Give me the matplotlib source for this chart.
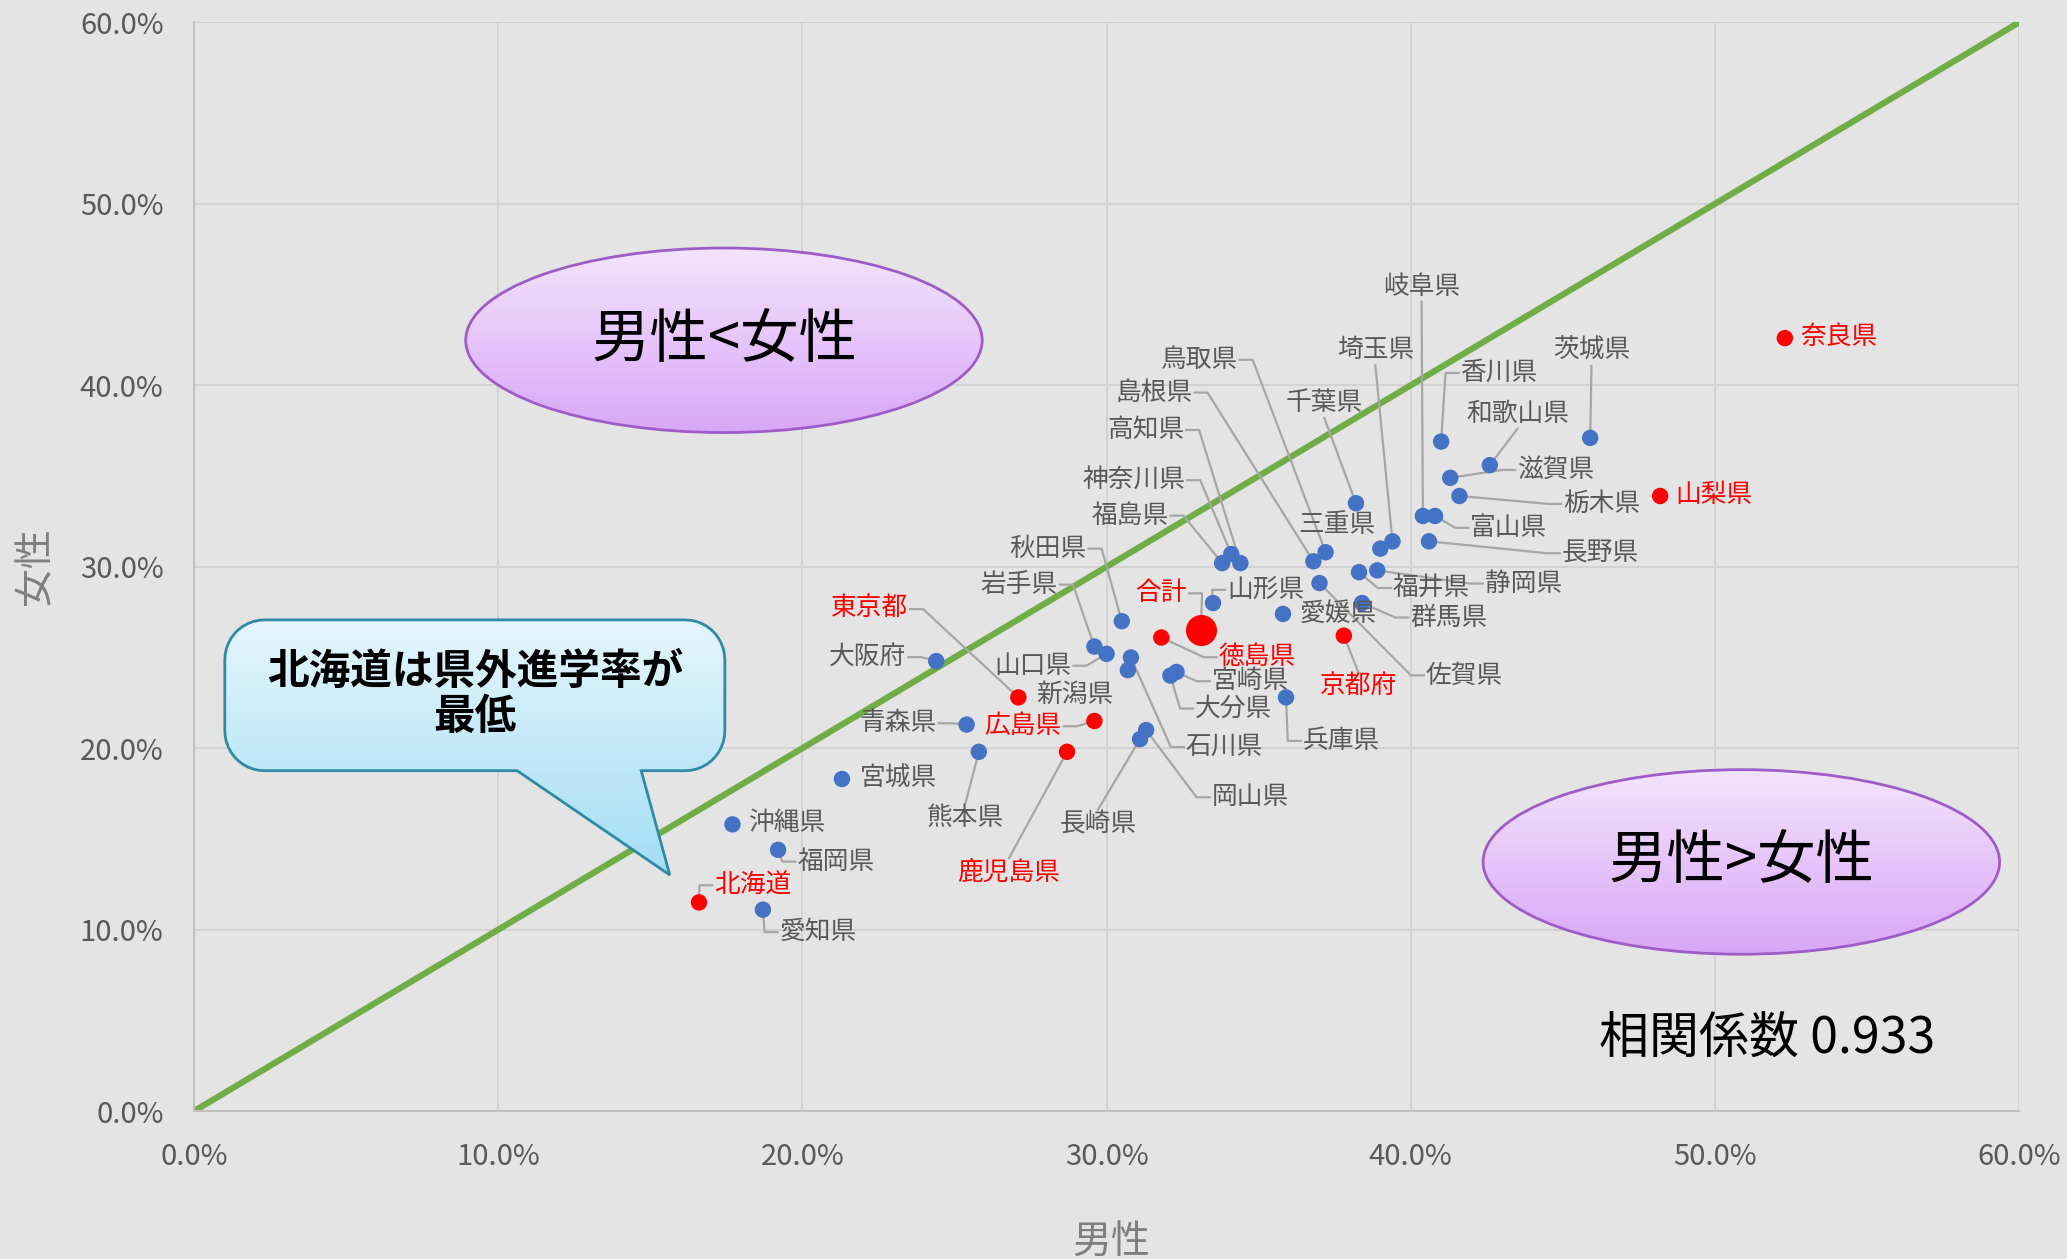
import numpy as np
import matplotlib
matplotlib.use("Agg")
import matplotlib.pyplot as plt
from matplotlib.patches import Ellipse, PathPatch
from matplotlib.path import Path

plt.rcParams['font.family'] = ['Noto Sans CJK JP', 'DejaVu Sans']

# 県外進学率 (%), 男性 / 女性
prefectures = ["北海道", "青森県", "岩手県", "宮城県", "秋田県", "山形県", "福島県",
               "茨城県", "栃木県", "群馬県", "埼玉県", "千葉県", "東京都", "神奈川県",
               "新潟県", "富山県", "石川県", "福井県", "山梨県", "長野県", "岐阜県",
               "静岡県", "愛知県", "三重県", "滋賀県", "京都府", "大阪府", "兵庫県",
               "奈良県", "和歌山県", "鳥取県", "島根県", "岡山県", "広島県", "山口県",
               "徳島県", "香川県", "愛媛県", "高知県", "福岡県", "佐賀県", "長崎県",
               "熊本県", "大分県", "宮崎県", "鹿児島県", "沖縄県"]
male = [16.6, 25.4, 29.6, 21.3, 30.5, 33.5, 33.8,
        45.9, 41.6, 38.4, 39.4, 38.2, 27.1, 34.1,
        30.7, 40.8, 30.8, 38.3, 48.2, 40.6, 40.4,
        38.9, 18.7, 39.0, 41.3, 37.8, 24.4, 35.9,
        52.3, 42.6, 37.2, 36.8, 31.3, 29.6, 30.0,
        31.8, 41.0, 35.8, 34.4, 19.2, 37.0, 31.1,
        25.8, 32.1, 32.3, 28.7, 17.7]
female = [11.5, 21.3, 25.6, 18.3, 27.0, 28.0, 30.2,
          37.1, 33.9, 28.0, 31.4, 33.5, 22.8, 30.7,
          24.3, 32.8, 25.0, 29.7, 33.9, 31.4, 32.8,
          29.8, 11.1, 31.0, 34.9, 26.2, 24.8, 22.8,
          42.6, 35.6, 30.8, 30.3, 21.0, 21.5, 25.2,
          26.1, 36.9, 27.4, 30.2, 14.4, 29.1, 20.5,
          19.8, 24.0, 24.2, 19.8, 15.8]
red_names = ["北海道", "東京都", "山梨県", "京都府", "奈良県", "広島県", "徳島県", "鹿児島県"]
total_name = "合計"
total_male = 33.1
total_female = 26.5
corr_text = "相関係数 0.933"

# label offset from the dot (px, y down) and where the leader leaves the label
label_layout = {
    "北海道": (41, -13, "L"), "青森県": (-52, -1, "R"), "岩手県": (-57, -47, "R"),
    "宮城県": (43, 0, None), "秋田県": (-56, -55, "R"), "山形県": (40, -10, "L"),
    "福島県": (-70, -36, "R"), "茨城県": (1, -66, "B"), "栃木県": (108, 6, "L"),
    "群馬県": (66, 11, "L"), "埼玉県": (-13, -145, "B"), "千葉県": (-24, -76, "B"),
    "東京都": (-113, -67, "R"), "神奈川県": (-74, -56, "R"), "新潟県": (-40, 19, None),
    "富山県": (56, 9, "L"), "石川県": (71, 68, "L"), "福井県": (55, 12, "L"),
    "山梨県": (41, -1, None), "長野県": (130, 9, "L"), "岐阜県": (-1, -174, "B"),
    "静岡県": (111, 10, "L"), "愛知県": (42, 17, "L"), "三重県": (-33, -18, None),
    "滋賀県": (80, -6, "L"), "京都府": (11, 39, "T"), "大阪府": (-52, -3, "R"),
    "兵庫県": (42, 33, "L"), "奈良県": (41, -1, None), "和歌山県": (21, -39, "B"),
    "鳥取県": (-96, -146, "R"), "島根県": (-121, -128, "R"), "岡山県": (79, 51, "L"),
    "広島県": (-54, 4, "R"), "山口県": (-56, 9, "R"), "徳島県": (73, 15, "L"),
    "香川県": (44, -52, "L"), "愛媛県": (42, 0, None), "高知県": (-72, -101, "R"),
    "福岡県": (44, 9, "L"), "佐賀県": (110, 70, "L"), "長崎県": (-32, 65, "T"),
    "熊本県": (-10, 50, "T"), "大分県": (48, 25, "L"), "宮崎県": (56, 7, "L"),
    "鹿児島県": (-44, 92, "T"), "沖縄県": (41, -1, None), "合計": (-30, -28, "R"),
}
PX = 1.318  # offsets above were measured on the reduced copy

BLUE = "#4472c4"
RED = "#ff0000"
BG = "#e4e4e4"

fig = plt.figure(figsize=(20.67, 12.59), dpi=100, facecolor=BG)
ax = fig.add_axes([0.0939, 0.1175, 0.8829, 0.8647], facecolor=BG)

ax.set_xlim(0, 60)
ax.set_ylim(0, 60)
ticks = np.arange(0, 61, 10)
ax.set_xticks(ticks)
ax.set_yticks(ticks)
ax.set_xticklabels([f"{t:.1f}%" for t in ticks])
ax.set_yticklabels([f"{t:.1f}%" for t in ticks])
ax.tick_params(length=0, labelsize=21, labelcolor="#595959")
ax.tick_params(axis="x", pad=22)
ax.tick_params(axis="y", pad=22)
ax.grid(True, color="#d2d2d2", lw=1.4)
ax.set_axisbelow(True)
for s in ["top", "right"]:
    ax.spines[s].set_visible(False)
for s in ["left", "bottom"]:
    ax.spines[s].set_color("#bfbfbf")
    ax.spines[s].set_linewidth(1.5)

# y = x reference line
ax.plot([0, 60], [0, 60], color="#70ad47", lw=4.5, zorder=2, solid_capstyle="butt")


def gradient_fill(patch, top_color, bottom_color, extent, z):
    ax.add_patch(patch)
    c1 = np.array(matplotlib.colors.to_rgb(top_color))
    c2 = np.array(matplotlib.colors.to_rgb(bottom_color))
    t = np.linspace(0, 1, 256)[:, None, None]
    img = c1 * (1 - t) + c2 * t
    img = np.repeat(img, 2, axis=1)
    im = ax.imshow(img, extent=extent, aspect="auto", origin="upper", zorder=z,
                   interpolation="bilinear")
    im.set_clip_path(patch)


# ellipses
for (cx, cy), txt in [((17.42, 42.48), "男性<女性"), ((50.87, 13.73), "男性>女性")]:
    w, h = 16.98, 10.17
    fill = Ellipse((cx, cy), w, h, facecolor="none", edgecolor="none", zorder=3)
    gradient_fill(fill, "#f4e4fc", "#d9a6f7", (cx - w / 2, cx + w / 2, cy - h / 2, cy + h / 2), 3)
    ax.add_patch(Ellipse((cx, cy), w, h, facecolor="none", edgecolor="#9d5cc6",
                         lw=2, zorder=3.5))
    ax.text(cx, cy, txt, ha="center", va="center", fontsize=42, color="black", zorder=4)

# callout
left, right, top, bottom = 1.01, 17.45, 27.07, 18.76
rx, ry = 1.3, 2.2
tail = [(14.70, bottom), (15.64, 13.01), (10.62, bottom)]


def arc(cx, cy, a0, a1):
    a = np.radians(np.linspace(a0, a1, 12))
    return list(zip(cx + rx * np.cos(a), cy + ry * np.sin(a)))


verts = [(left + rx, top), (right - rx, top)]
verts += arc(right - rx, top - ry, 90, 0)
verts += [(right, bottom + ry)]
verts += arc(right - rx, bottom + ry, 0, -90)
verts += tail
verts += [(left + rx, bottom)]
verts += arc(left + rx, bottom + ry, -90, -180)
verts += [(left, top - ry)]
verts += arc(left + rx, top - ry, 180, 90)
verts.append(verts[0])
codes = [Path.MOVETO] + [Path.LINETO] * (len(verts) - 2) + [Path.CLOSEPOLY]
callout_path = Path(verts, codes)
gradient_fill(PathPatch(callout_path, facecolor="none", edgecolor="none", zorder=3),
              "#e5f6fd", "#a3ddf5", (left, right, 13.01, top), 3)
ax.add_patch(PathPatch(callout_path, facecolor="none", edgecolor="#2f8aa5", lw=2, zorder=3.5))
ax.text((left + right) / 2, 22.95, "北海道は県外進学率が\n最低", ha="center", va="center",
        fontsize=30, fontweight="bold", linespacing=1.1, color="black", zorder=4)

ax.text(46.2, 4.0, corr_text, ha="left", va="center", fontsize=36, color="black", zorder=4)

# points
colors = [RED if p in red_names else BLUE for p in prefectures]
ax.scatter(male, female, s=140, c=colors, zorder=5, linewidths=0)
ax.scatter([total_male], [total_female], s=500, c=RED, zorder=5, linewidths=0)

# labels
labels = []
for name, x, y in list(zip(prefectures, male, female)) + [(total_name, total_male, total_female)]:
    dx, dy, side = label_layout[name]
    col = RED if (name in red_names or name == total_name) else "#595959"
    t = ax.annotate(name, (x, y), xytext=(dx * PX, -dy * PX), textcoords="offset pixels",
                    ha="center", va="center", fontsize=18.5, color=col, zorder=6)
    labels.append((t, x, y, side))

fig.canvas.draw()
r = fig.canvas.get_renderer()
inv = ax.transData.inverted()
stub = 13
for t, x, y, side in labels:
    if side is None:
        continue
    bb = t.get_window_extent(r)
    px, py = ax.transData.transform((x, y))
    my = (bb.y0 + bb.y1) / 2
    mx = (bb.x0 + bb.x1) / 2
    if side == "L":
        pts = [(bb.x0 - 2, my), (bb.x0 - 2 - stub, my), (px, py)]
    elif side == "R":
        pts = [(bb.x1 + 2, my), (bb.x1 + 2 + stub, my), (px, py)]
    elif side == "B":
        pts = [(mx, bb.y0 - 2), (px, py)]
    else:
        pts = [(mx, bb.y1 + 2), (px, py)]
    d = inv.transform(pts)
    ax.plot(d[:, 0], d[:, 1], color="#a6a6a6", lw=1.6, zorder=4.5)

fig.text(0.5375, 0.014, "男性", ha="center", va="center", fontsize=28, color="#7f7f7f")
fig.text(0.017, 0.55, "女性", ha="center", va="center", fontsize=28, color="#7f7f7f",
         rotation=90)

fig.savefig("out.png", dpi=100, facecolor=BG)
